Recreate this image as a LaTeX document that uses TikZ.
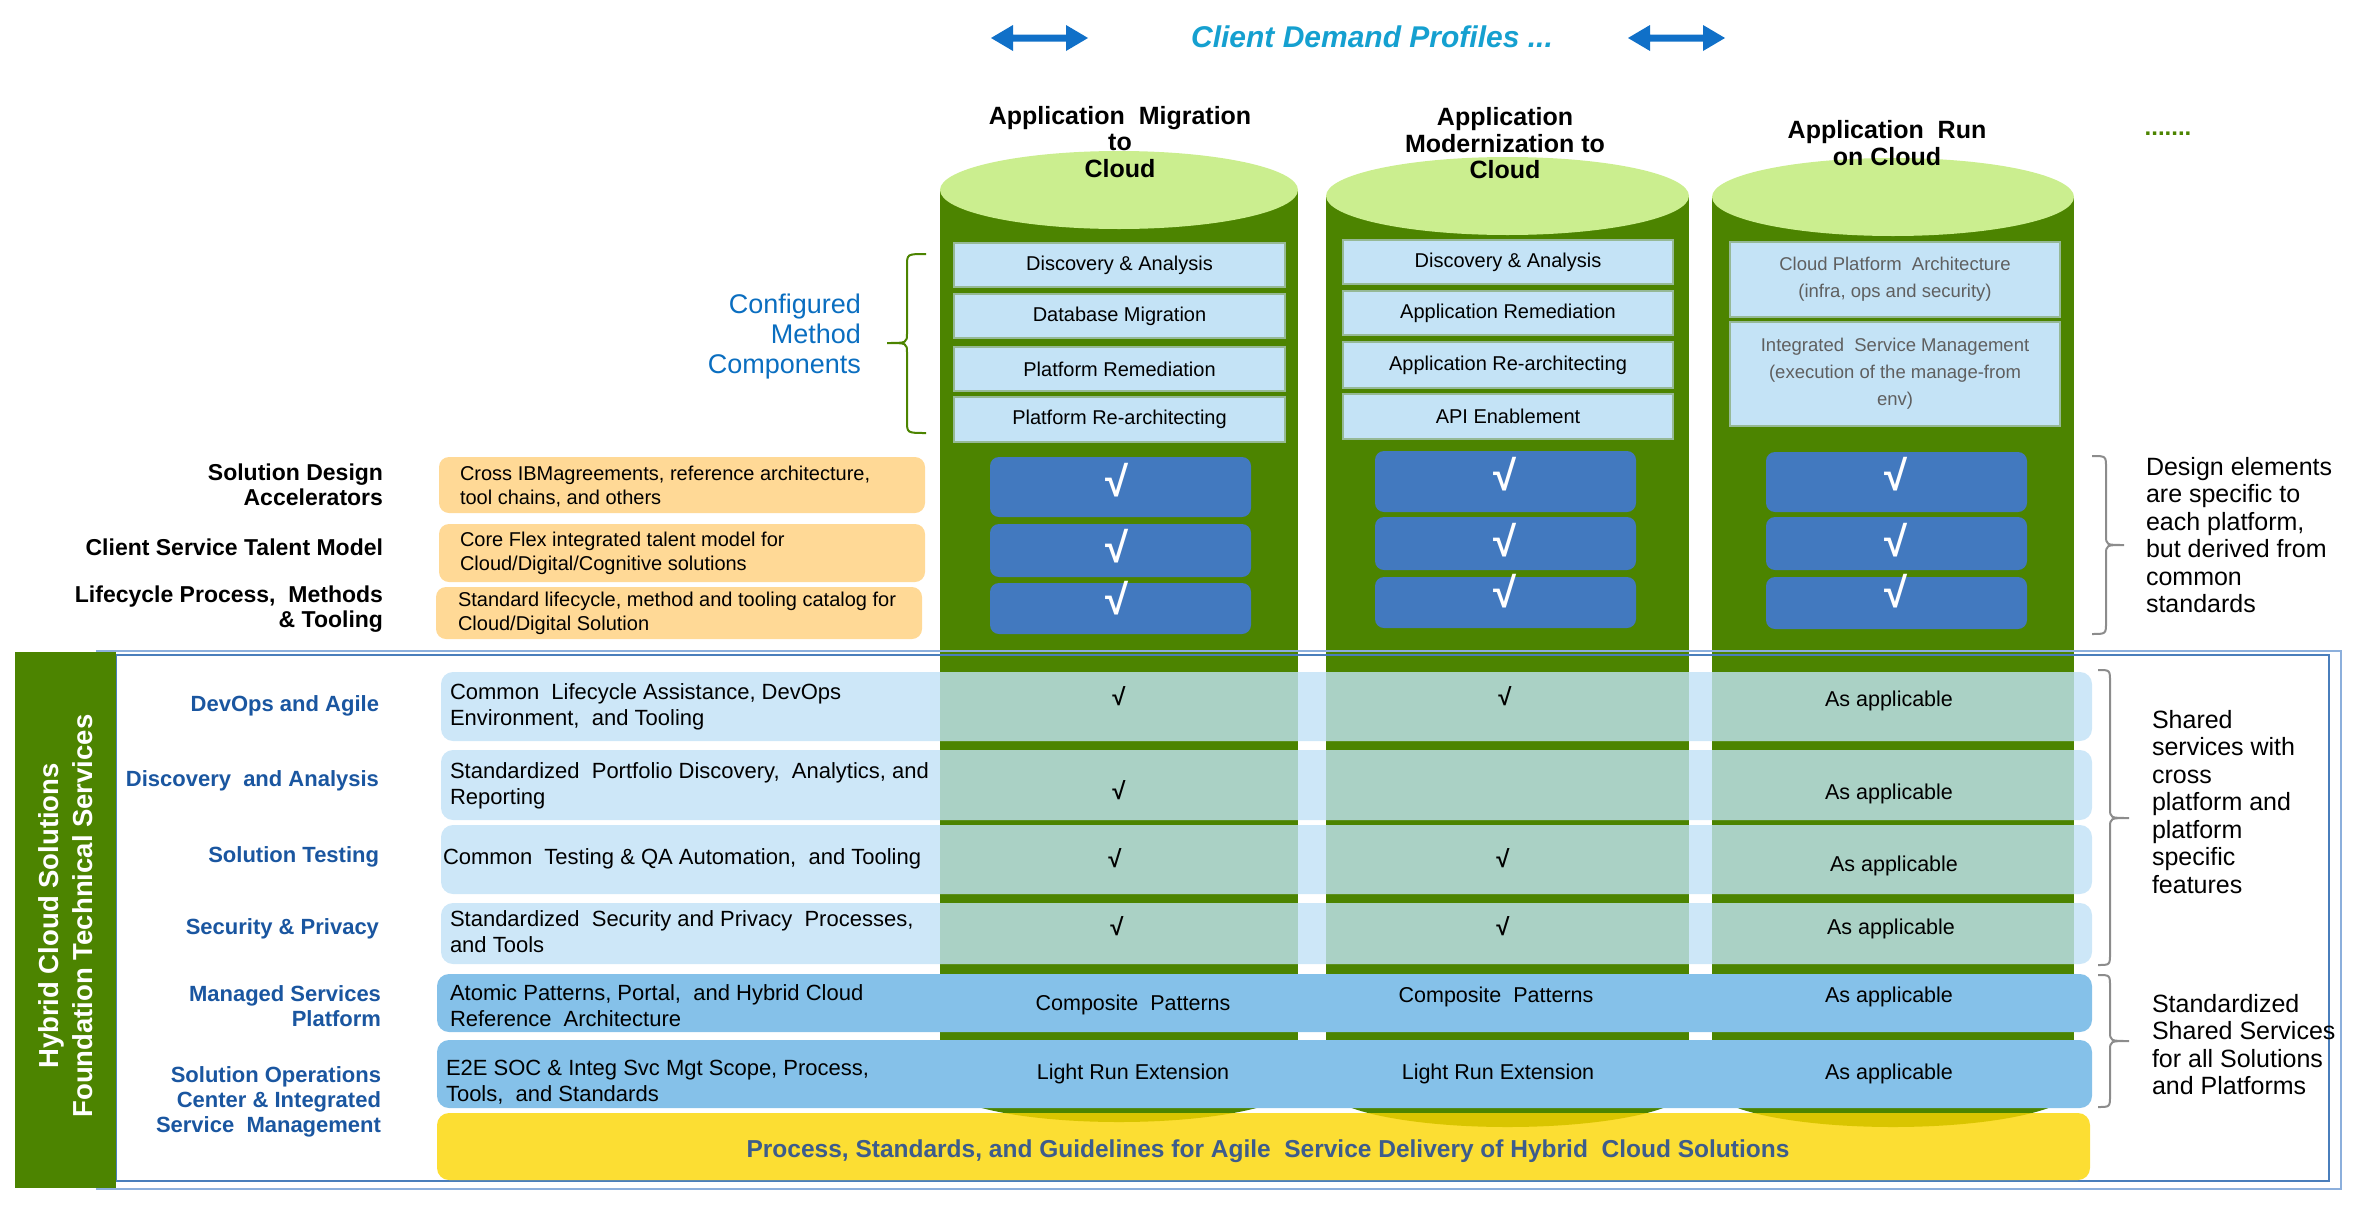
\documentclass[tikz,border=0pt]{standalone}
\usepackage{fontspec}
\setmainfont{Liberation Sans}
\definecolor{cylgreen}{RGB}{76,132,0}
\definecolor{cyltop}{RGB}{203,238,143}
\definecolor{methblue}{RGB}{196,227,246}
\definecolor{methborder}{RGB}{150,185,150}
\definecolor{checkblue}{RGB}{66,121,191}
\definecolor{orangebox}{RGB}{255,217,150}
\definecolor{rowblue}{RGB}{205,231,248}
\definecolor{rowteal}{RGB}{170,209,197}
\definecolor{rowmid}{RGB}{133,193,233}
\definecolor{yellowfill}{RGB}{252,222,51}
\definecolor{yellowdark}{RGB}{217,197,0}
\definecolor{labelblue}{RGB}{26,86,160}
\definecolor{cmcblue}{RGB}{10,110,192}
\definecolor{titlecyan}{RGB}{21,160,208}
\definecolor{arrowblue}{RGB}{16,112,200}
\definecolor{ytext}{RGB}{61,92,140}
\definecolor{bracegray}{RGB}{140,140,140}
\definecolor{frameout}{RGB}{140,175,220}
\definecolor{framein}{RGB}{74,126,187}
\definecolor{cthreegray}{RGB}{95,95,95}
\newcommand{\setfs}[2]{\fontsize{#1pt}{#2pt}\selectfont}
\begin{document}
\begin{tikzpicture}[x=1pt,y=-1pt,
  every node/.style={inner sep=0pt, outer sep=0pt},
  hdr/.style={font=\bfseries\setfs{25}{26.5}, align=center},
  methbox/.style={draw=methborder, line width=1.2pt, fill=methblue, font=\setfs{20}{24}, align=center},
  chkbox/.style={fill=checkblue, rounded corners=9pt, minimum width=261pt},
  bigchk/.style={text=white, font=\bfseries\setfs{42}{42}},
  smchk/.style={font=\bfseries\setfs{24}{24}},
  blacklbl/.style={font=\bfseries\setfs{23}{25}, align=right, anchor=east},
  bluelbl/.style={blacklbl, font=\bfseries\setfs{22}{25}, text=labelblue},
  orangetxt/.style={font=\setfs{20}{23.5}, align=left, anchor=west},
  rowtxt/.style={font=\setfs{22}{26}, align=left, anchor=west},
  celltxt/.style={font=\setfs{21.5}{26}},
  sidetxt/.style={font=\setfs{25}{27.5}, align=left, anchor=west},
  bracestyle/.style={draw=bracegray, line width=2pt},
]
\useasboundingbox (0,0) rectangle (2360,1210);

% ---- top arrows and title
\fill[arrowblue] (991,38) -- (1013,25) -- (1013,34.5) -- (1066,34.5) -- (1066,25) -- (1088,38)
  -- (1066,51) -- (1066,41.5) -- (1013,41.5) -- (1013,51) -- cycle;
\fill[arrowblue] (1628,38) -- (1650,25) -- (1650,34.5) -- (1703,34.5) -- (1703,25) -- (1725,38)
  -- (1703,51) -- (1703,41.5) -- (1650,41.5) -- (1650,51) -- cycle;
\node[text=titlecyan, font=\bfseries\itshape\setfs{30}{30}] (title) at (1372,37) {Client Demand Profiles ...};

% ---- cylinders
\foreach \xl/\xr/\ty/\by in {940/1298/190/1083, 1326/1689/196/1088, 1712/2074/197/1088} {
  \pgfmathsetmacro\xc{(\xl+\xr)/2}
  \pgfmathsetmacro\rx{(\xr-\xl)/2}
  \fill[cylgreen] (\xl,\ty) rectangle (\xr,\by);
  \fill[cylgreen] (\xc,\by) ellipse [x radius=\rx pt, y radius=39pt];
  \fill[cyltop] (\xc,\ty) ellipse [x radius=\rx pt, y radius=39pt];
}

% ---- headers
\node[hdr] (h1) at (1120,142) {Application\ \ Migration\\to\\Cloud};
\node[hdr] (h2) at (1505,143.5) {Application\\Modernization to\\Cloud};
\node[hdr] (h3) at (1887,143) {Application\ \ Run\\on Cloud};
\node[text=cylgreen, font=\bfseries\setfs{24}{24}] (dots) at (2168,134) {.......};

% ---- method component boxes
\node[methbox, minimum width=331pt, minimum height=44pt] (m11) at (1119.5,265) {Discovery \& Analysis};
\node[methbox, minimum width=331pt, minimum height=44pt] (m12) at (1119.5,316) {Database Migration};
\node[methbox, minimum width=331pt, minimum height=44pt] (m13) at (1119.5,369) {Platform Remediation};
\node[methbox, minimum width=331pt, minimum height=45pt] (m14) at (1119.5,419.5) {Platform Re-architecting};
\node[methbox, minimum width=330pt, minimum height=44pt] (m21) at (1508,262) {Discovery \& Analysis};
\node[methbox, minimum width=330pt, minimum height=44pt] (m22) at (1508,313) {Application Remediation};
\node[methbox, minimum width=330pt, minimum height=46pt] (m23) at (1508,365) {Application Re-architecting};
\node[methbox, minimum width=330pt, minimum height=45pt] (m24) at (1508,416.5) {API Enablement};
\node[methbox, minimum width=330pt, minimum height=75pt, text=cthreegray, font=\setfs{18.5}{27}] (m31) at (1895,279.5) {Cloud Platform\ \ Architecture\\(infra, ops and security)};
\node[methbox, minimum width=330pt, minimum height=104pt, text=cthreegray, font=\setfs{18.5}{27}] (m32) at (1895,374) {Integrated\ \ Service Management\\(execution of the manage-from\\env)};

% ---- configured method components + brace
\node[text=cmcblue, font=\setfs{27}{30}, align=right, anchor=east] (cmc) at (861,337) {Configured\\Method\\Components};
\draw[draw=cylgreen, line width=2pt] (926,254) .. controls (907,254) .. (907,266) -- (907,333)
  .. controls (907,343) .. (887,343) .. controls (907,343) .. (907,353) -- (907,421) .. controls (907,433) .. (926,433);

% ---- check boxes
\node[chkbox, minimum height=60pt] (k11) at (1120.5,487) {};
\node[chkbox, minimum height=53pt] (k12) at (1120.5,550.5) {};
\node[chkbox, minimum height=51pt] (k13) at (1120.5,608.5) {};
\node[chkbox, minimum height=61pt] (k21) at (1505.5,481.5) {};
\node[chkbox, minimum height=53pt] (k22) at (1505.5,543.5) {};
\node[chkbox, minimum height=51pt] (k23) at (1505.5,602.5) {};
\node[chkbox, minimum height=60pt] (k31) at (1896.5,482) {};
\node[chkbox, minimum height=53pt] (k32) at (1896.5,543.5) {};
\node[chkbox, minimum height=52pt] (k33) at (1896.5,603) {};
\node[bigchk] (c11) at (1117,480) {√};
\node[bigchk] (c12) at (1117,546) {√};
\node[bigchk] (c13) at (1117,598) {√};
\node[bigchk] (c21) at (1505,474) {√};
\node[bigchk] (c22) at (1505,540) {√};
\node[bigchk] (c23) at (1505,591) {√};
\node[bigchk] (c31) at (1896,474) {√};
\node[bigchk] (c32) at (1896,540) {√};
\node[bigchk] (c33) at (1896,591) {√};

% ---- orange boxes and labels
\fill[orangebox, rounded corners=10pt] (439,457) rectangle (925,513);
\fill[orangebox, rounded corners=10pt] (439,524) rectangle (925,582);
\fill[orangebox, rounded corners=10pt] (436,587) rectangle (922,639);
\node[orangetxt] (o1) at (460,486.5) {Cross IBMagreements, reference architecture,\\tool chains, and others};
\node[orangetxt] (o2) at (460,553.5) {Core Flex integrated talent model for\\Cloud/Digital/Cognitive solutions};
\node[orangetxt] (o3) at (458,613.5) {Standard lifecycle, method and tooling catalog for\\Cloud/Digital Solution};
\node[blacklbl] (l1) at (383,484.5) {Solution Design\\Accelerators};
\node[blacklbl] (l2) at (383,547) {Client Service Talent Model};
\node[blacklbl] (l3) at (383,609) {Lifecycle Process,\ \ Methods\\\& Tooling};

% ---- right brace 1
\draw[bracestyle] (2092,456) .. controls (2106,456) .. (2106,468) -- (2106,535)
  .. controls (2106,545) .. (2124,545) .. controls (2106,545) .. (2106,555) -- (2106,622) .. controls (2106,634) .. (2092,634);
\node[sidetxt] (s1) at (2146,535) {Design elements\\are specific to\\each platform,\\but derived from\\common\\standards};

% ---- frame
\draw[frameout, line width=1.5pt] (97,651) rectangle (2341,1189);
\draw[framein, line width=1.5pt] (116,655) rectangle (2329,1181);

% ---- shared rows
\foreach \t/\b in {672/741,750/820,825/894,903/964}
  \fill[rowblue, rounded corners=12pt] (441,\t) rectangle (2092,\b);
\foreach \xl/\xr in {940/1298,1326/1689,1712/2074}
  \foreach \t/\b in {672/741,750/820,825/894,903/964}
    \fill[rowteal] (\xl,\t) rectangle (\xr,\b);
\fill[rowmid, rounded corners=12pt] (437,974) rectangle (2092,1032);
\fill[rowmid, rounded corners=12pt] (437,1040) rectangle (2092,1108);
\fill[fill=yellowfill, rounded corners=12pt] (437,1113) rectangle (2090,1180);
\begin{scope}
  \clip[rounded corners=12pt] (437,1113) rectangle (2090,1180);
  \fill[fill=yellowdark] (1119,1083) ellipse [x radius=179pt, y radius=39pt];
  \fill[fill=yellowdark] (1507.5,1088) ellipse [x radius=181.5pt, y radius=39pt];
  \fill[fill=yellowdark] (1893,1088) ellipse [x radius=181pt, y radius=39pt];
\end{scope}

% ---- left green bar
\fill[cylgreen] (15,652) rectangle (116,1188);
\node[text=white, font=\bfseries\setfs{27.5}{34}, align=center, rotate=90] (vbar) at (66,916) {Hybrid Cloud Solutions\\Foundation Technical Services};

% ---- row labels
\node[bluelbl] (b1) at (379,706) {DevOps and Agile};
\node[bluelbl] (b2) at (379,781) {Discovery\ \ and Analysis};
\node[bluelbl] (b3) at (379,857) {Solution Testing};
\node[bluelbl] (b4) at (379,929) {Security \& Privacy};
\node[bluelbl] (b5) at (381,1006.5) {Managed Services\\Platform};
\node[bluelbl] (b6) at (381,1101.5) {Solution Operations\\Center \& Integrated\\Service\ \ Management};

% ---- row texts
\node[rowtxt] (r1) at (450,707) {Common\ \ Lifecycle Assistance, DevOps\\Environment,\ \ and Tooling};
\node[rowtxt] (r2) at (450,786) {Standardized\ \ Portfolio Discovery,\ \ Analytics, and\\Reporting};
\node[rowtxt] (r3) at (443,859) {Common\ \ Testing \& QA Automation,\ \ and Tooling};
\node[rowtxt] (r4) at (450,932) {Standardized\ \ Security and Privacy\ \ Processes,\\and Tools};
\node[rowtxt] (r5) at (450,1006) {Atomic Patterns, Portal,\ \ and Hybrid Cloud\\Reference\ \ Architecture};
\node[rowtxt] (r6) at (446,1082.5) {E2E SOC \& Integ Svc Mgt Scope, Process,\\Tools,\ \ and Standards};

% ---- cell contents
\node[smchk] (x11) at (1119,696) {√};
\node[smchk] (x12) at (1505,696) {√};
\node[celltxt] (x13) at (1889,701) {As applicable};
\node[smchk] (x21) at (1119,790) {√};
\node[celltxt] (x23) at (1889,794) {As applicable};
\node[smchk] (x31) at (1115,858) {√};
\node[smchk] (x32) at (1503,858) {√};
\node[celltxt] (x33) at (1894,866) {As applicable};
\node[smchk] (x41) at (1117,926) {√};
\node[smchk] (x42) at (1503,926) {√};
\node[celltxt] (x43) at (1891,929) {As applicable};
\node[celltxt] (x51) at (1133,1005) {Composite\ \ Patterns};
\node[celltxt] (x52) at (1496,997) {Composite\ \ Patterns};
\node[celltxt] (x53) at (1889,997) {As applicable};
\node[celltxt] (x61) at (1133,1074) {Light Run Extension};
\node[celltxt] (x62) at (1498,1074) {Light Run Extension};
\node[celltxt] (x63) at (1889,1074) {As applicable};

\node[text=ytext, font=\bfseries\setfs{24.5}{24.5}] (ytxt) at (1268,1151) {Process, Standards, and Guidelines for Agile\ \ Service Delivery of Hybrid\ \ Cloud Solutions};

% ---- right braces 2 and 3
\draw[bracestyle] (2098,670) .. controls (2110,670) .. (2110,682) -- (2110,808)
  .. controls (2110,818) .. (2129,818) .. controls (2110,818) .. (2110,828) -- (2110,953) .. controls (2110,965) .. (2098,965);
\node[sidetxt] (s2) at (2152,802) {Shared\\services with\\cross\\platform and\\platform\\specific\\features};
\draw[bracestyle] (2098,975) .. controls (2110,975) .. (2110,987) -- (2110,1031)
  .. controls (2110,1041) .. (2129,1041) .. controls (2110,1041) .. (2110,1051) -- (2110,1095) .. controls (2110,1107) .. (2098,1107);
\node[sidetxt] (s3) at (2152,1044.5) {Standardized\\Shared Services\\for all Solutions\\and Platforms};
\end{tikzpicture}
\end{document}
